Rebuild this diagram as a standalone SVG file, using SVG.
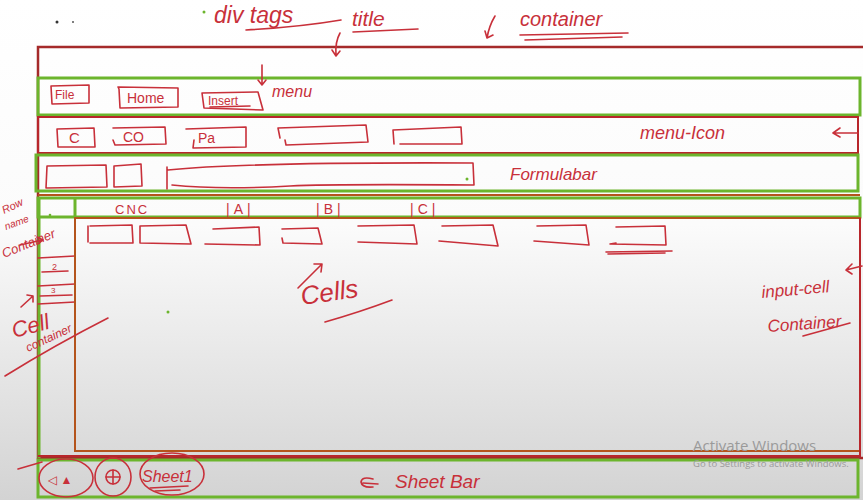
<svg xmlns="http://www.w3.org/2000/svg" width="863" height="500" viewBox="0 0 863 500">
<defs>
<linearGradient id="bg" x1="0" y1="0" x2="0" y2="1">
<stop offset="0" stop-color="#ffffff"/>
<stop offset="0.45" stop-color="#fbfbfb"/>
<stop offset="1" stop-color="#d3d3d3"/>
</linearGradient>
<style>
.red{fill:none;stroke:#b8262b;stroke-width:2}
.redd{fill:none;stroke:#a52a2a;stroke-width:2.5}
.org{fill:none;stroke:#b4541c;stroke-width:2}
.grn{fill:none;stroke:#6cb52d;stroke-width:3}
.pen{fill:none;stroke:#c8303a;stroke-width:1.6;stroke-linecap:round;stroke-linejoin:round}
.t{font-family:"Liberation Sans","DejaVu Sans",sans-serif;fill:#c8303a}
.wm{font-family:"Open Sans","Liberation Sans",sans-serif;fill:#9a9a9a}
</style>
</defs>
<rect width="863" height="500" fill="url(#bg)"/>

<g id="header-notes">
<circle cx="57" cy="22" r="1.5" fill="#333"/>
<circle cx="73" cy="22" r="1" fill="#555"/>
<circle cx="204" cy="12" r="1.5" fill="#6cb52d"/>
<text class="t" x="214" y="23" font-size="23" font-style="italic">div tags</text>
<path class="pen" d="M246 30 Q300 27 341 20"/>
<text class="t" x="352" y="26" font-size="21" font-style="italic">title</text>
<path class="pen" d="M353 32 L418 29"/>
<text class="t" x="520" y="26" font-size="20" font-style="italic">container</text>
<path class="pen" d="M520 35 L628 33 M525 40 L622 37"/>
</g>

<g id="container">
<rect class="redd" x="38" y="47" width="830" height="411"/>
</g>

<g id="menu">
<rect class="grn" x="38" y="78" width="822" height="37"/>
<path class="pen" d="M51 86 L89 85 L89 103 L52 104 Z"/>
<text class="t" x="55" y="99" font-size="12">File</text>
<path class="pen" d="M119 89 L118 87 L178 88 L178 107 L120 108 Z"/>
<text class="t" x="127" y="103" font-size="14">Home</text>
<path class="pen" d="M202 93 L258 92 L263 110 L204 108 Z"/>
<text class="t" x="208" y="105" font-size="12">Insert</text>
<path class="pen" d="M210 107 L250 106"/>
<text class="t" x="272" y="97" font-size="16" font-style="italic">menu</text>
</g>

<g id="menu-icon">
<rect class="red" x="38" y="117" width="820" height="36"/>
<path class="pen" d="M57 129 L94 128 L95 147 L58 147 Z"/>
<text class="t" x="69" y="143" font-size="15">C</text>
<path class="pen" d="M113 128 L165 127 L166 144 L115 145 L113 140"/>
<text class="t" x="123" y="142" font-size="14">CO</text>
<path class="pen" d="M186 129 L246 127 L246 147 L193 148 L194 140"/>
<text class="t" x="198" y="143" font-size="14">Pa</text>
<path class="pen" d="M280 138 L278 128 L366 125 L368 142 L286 145 L285 140"/>
<path class="pen" d="M394 144 L393 130 L461 127 L462 144 L400 144"/>
<text class="t" x="640" y="139" font-size="18" font-style="italic">menu-Icon</text>
</g>

<g id="formula-bar">
<rect class="grn" x="36" y="155" width="822" height="36"/>
<path class="pen" d="M46 188 L47 166 L106 165 L107 187 Z"/>
<path class="pen" d="M114 187 L114 166 L141 164 L142 186 Z"/>
<path class="pen" d="M167 167 L167 189 M168 170 Q250 162 473 163 L474 185 Q330 184 290 186 Q220 190 172 185"/>
<circle cx="467" cy="179" r="1.5" fill="#6cb52d"/>
<text class="t" x="510" y="180" font-size="17" font-style="italic">Formulabar</text>
</g>

<line x1="38" y1="195" x2="860" y2="195" class="org"/>

<g id="column-header">
<rect class="grn" x="38" y="198" width="822" height="19"/>
<text class="t" x="115" y="214" font-size="13" letter-spacing="2">CNC</text>
<text class="t" x="226" y="214" font-size="14" letter-spacing="4">|A|</text>
<text class="t" x="316" y="214" font-size="14" letter-spacing="4">|B|</text>
<text class="t" x="410" y="214" font-size="14" letter-spacing="4">|C|</text>
</g>

<g id="row-name-container">
<line x1="39" y1="198" x2="39" y2="458" class="grn"/>
<line x1="75" y1="198" x2="75" y2="218" class="grn"/>
<circle cx="50" cy="215" r="1.3" fill="#6cb52d"/>
<path class="pen" d="M38 258 L75 256 M42 272 L68 271 M38 286 L75 284 M40 296 L72 295 M38 304 L75 302"/>
<text class="t" x="52" y="270" font-size="9">2</text>
<text class="t" x="51" y="293" font-size="8">3</text>
</g>

<g id="input-cell-container">
<rect class="org" x="75" y="218" width="785" height="233"/>
<line x1="860" y1="218" x2="860" y2="458" class="red"/>
<path class="pen" d="M88 226 L88 242 M90 226 L132 225 L133 243 L90 243"/>
<path class="pen" d="M140 226 L186 225 L191 244 L140 243 Z"/>
<path class="pen" d="M213 229 L259 227 L260 245 L205 244"/>
<path class="pen" d="M282 229 L318 228 L322 244 L283 243 L282 238"/>
<path class="pen" d="M358 226 L414 225 L417 244 L358 242"/>
<path class="pen" d="M442 226 L493 225 L498 246 L439 241"/>
<path class="pen" d="M537 226 L586 225 L589 245 L534 241"/>
<path class="pen" d="M616 227 L665 226 L666 245 L610 244 L616 243"/>
<path class="pen" d="M606 252 L672 251 M608 254 L665 253"/>
<circle cx="168" cy="312" r="1.5" fill="#6cb52d"/>
</g>

<g id="sheet-bar">
<line x1="38" y1="456" x2="860" y2="456" class="red"/>
<rect class="grn" x="38" y="460" width="820" height="37"/>
<ellipse class="pen" cx="66" cy="478" rx="27" ry="19"/>
<text class="t" x="48" y="484" font-size="12">◁ ▲</text>
<ellipse class="pen" cx="113" cy="477" rx="18" ry="19"/>
<circle class="pen" cx="113" cy="477" r="7"/>
<path class="pen" d="M106 477 L120 477 M113 470 L113 484"/>
<ellipse class="pen" cx="172" cy="474" rx="32" ry="21"/>
<text class="t" x="142" y="482" font-size="16" font-style="italic">Sheet1</text>
<path class="pen" d="M150 488 L188 486 M155 491 L180 490"/>
<text class="t" x="395" y="488" font-size="19" font-style="italic">Sheet Bar</text>
</g>

<g id="side-notes">
<text class="t" x="4" y="214" font-size="11" font-style="italic" transform="rotate(-25 4 214)">Row</text>
<text class="t" x="6" y="230" font-size="10" font-style="italic" transform="rotate(-20 6 230)">name</text>
<text class="t" x="4" y="258" font-size="13" font-style="italic" transform="rotate(-22 4 258)">Container</text>
<text class="t" x="14" y="338" font-size="22" font-style="italic" transform="rotate(-15 14 338)">Cell</text>
<text class="t" x="28" y="352" font-size="12" font-style="italic" transform="rotate(-25 28 352)">container</text>
<path class="pen" d="M5 376 Q55 345 108 318"/>
<text class="t" x="302" y="305" font-size="26" font-style="italic" transform="rotate(-8 302 305)">Cells</text>
<path class="pen" d="M325 322 Q360 312 392 300"/>
<text class="t" x="762" y="298" font-size="17" font-style="italic" transform="rotate(-5 762 298)">input-cell</text>
<text class="t" x="768" y="332" font-size="17" font-style="italic" transform="rotate(-4 768 332)">Container</text>
<path class="pen" d="M803 336 L850 323"/>
<text class="wm" x="693" y="451" font-size="15">Activate Windows</text>
<text class="wm" x="693" y="467" font-size="9.5">Go to Settings to activate Windows.</text>
</g>

<g id="connectors">
<path class="pen" d="M340 33 Q335 42 336 55 M332 50 L336 56 L340 51"/>
<path class="pen" d="M495 16 Q489 26 487 38 M485 31 L487 38 L493 35"/>
<path class="pen" d="M262 65 L262 84 M258 80 L262 85 L266 80"/>
<path class="pen" d="M858 133 L833 133 M840 128 L833 133 L840 137"/>
<path class="pen" d="M20 245 L42 240 M37 237 L43 240 L38 244"/>
<path class="pen" d="M21 307 L33 296 M27 295 L33 296 L33 302"/>
<path class="pen" d="M298 288 L322 264 M314 264 L322 264 L321 272"/>
<path class="pen" d="M862 266 L846 270 M852 264 L846 270 L852 274"/>
<path class="pen" d="M18 469 L42 462"/>
<path class="pen" d="M373 479 Q362 476 361 482 Q362 488 373 487 M363 483 L378 484"/>
</g>
</svg>
